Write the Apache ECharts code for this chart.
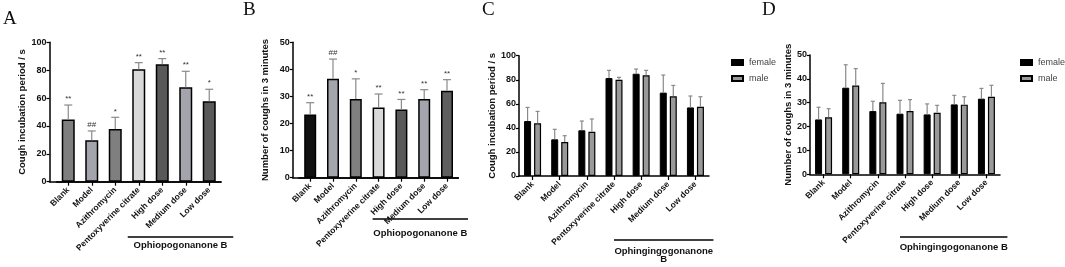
<!DOCTYPE html>
<html>
<head>
<meta charset="utf-8">
<script src="https://cdn.jsdelivr.net/npm/echarts@6/dist/echarts.min.js"></script>
<style>
  html, body { margin: 0; padding: 0; background: #fff; }
  #chart { width: 1065px; height: 267px; }
</style>
</head>
<body>
<div id="chart"></div>
<script>
const groups = ["Blank", "Model", "Azithromycin", "Pentoxyverine citrate", "High dose", "Medium dose", "Low dose"];

// A: cough incubation period
const latencyMean = [44.7, 29.7, 37.8, 80.6, 84.2, 67.7, 57.7];
const latencyUpper = [55.0, 36.4, 46.2, 85.4, 88.3, 79.2, 66.3];
const latencyMarks = ["**", "##", "*", "**", "**", "**", "*"];

// B: number of coughs
const coughMean = [23.3, 36.5, 29.1, 25.9, 25.2, 29.1, 32.1];
const coughUpper = [27.7, 43.8, 36.5, 30.9, 28.9, 32.5, 36.2];
const coughMarks = ["**", "##", "*", "**", "**", "**", "**"];

// C: incubation period by sex
const latencyFemale = [45.7, 30.5, 38.0, 81.4, 85.0, 69.3, 57.0];
const latencyFemaleUpper = [57.0, 38.8, 45.7, 87.8, 88.9, 83.9, 66.5];
const latencyMale = [43.8, 28.3, 36.8, 80.0, 83.7, 66.2, 57.6];
const latencyMaleUpper = [53.7, 33.5, 47.4, 82.0, 87.8, 75.3, 65.9];

// D: coughs by sex
const coughFemale = [23.0, 36.3, 26.5, 25.4, 25.1, 29.3, 31.7];
const coughFemaleUpper = [28.1, 45.9, 30.6, 31.0, 29.5, 33.1, 36.0];
const coughMale = [23.9, 37.2, 30.2, 26.5, 25.8, 29.2, 32.5];
const coughMaleUpper = [27.5, 44.3, 38.1, 31.3, 28.9, 32.5, 37.3];

const fillA = ["#7f7f7f", "#a4a4ac", "#7f7f7f", "#d9d9d9", "#595959", "#a4a4ac", "#595959"];
const fillB = ["#111111", "#a4a4ac", "#7f7f7f", "#d9d9d9", "#595959", "#a4a4ac", "#5f5f5f"];

const font = "Arial, 'Liberation Sans', sans-serif";
const errColor = "#8a8a8a";

const chart = echarts.init(document.getElementById("chart"));

function catAxis(gridIndex, showLabels) {
  return {
    type: "category", gridIndex, data: groups,
    axisLine: { show: true, lineStyle: { color: "#000", width: 1.5 } },
    axisTick: { show: showLabels, alignWithLabel: true, length: 4, lineStyle: { color: "#000", width: 1.2 } },
    axisLabel: {
      show: showLabels, interval: 0, rotate: 45, margin: 7,
      fontSize: 8.5, fontWeight: "bold", color: "#111", fontFamily: font
    }
  };
}

function valAxis(gridIndex, max, interval, name, nameGap, offset) {
  return {
    type: "value", gridIndex, min: 0, max, interval, offset: offset || 0,
    name, nameLocation: "middle", nameRotate: 90, nameGap,
    nameTextStyle: { fontSize: 9.5, fontWeight: "bold", color: "#111", fontFamily: font },
    axisLine: { show: true, lineStyle: { color: "#000", width: 1.5 } },
    axisTick: { show: true, length: 3, lineStyle: { color: "#000", width: 1.2 } },
    axisLabel: { fontSize: 9, fontWeight: "bold", color: "#111", margin: 3, fontFamily: font },
    splitLine: { show: false }
  };
}

function hiddenVal(gridIndex, max) {
  return { type: "value", gridIndex, min: 0, max, show: false };
}

function errorBars(axisIndex, means, uppers, marks, shift, cap) {
  return {
    type: "custom", xAxisIndex: axisIndex, yAxisIndex: axisIndex, z: 3, silent: true,
    data: means.map((m, i) => [i, m, uppers[i]]),
    renderItem: (params, api) => {
      const b = api.coord([api.value(0), api.value(1)]);
      const t = api.coord([api.value(0), api.value(2)]);
      const x = b[0] + shift;
      const children = [
        { type: "line", shape: { x1: x, y1: b[1], x2: x, y2: t[1] }, style: { stroke: errColor, lineWidth: 1.2 } },
        { type: "line", shape: { x1: x - cap, y1: t[1], x2: x + cap, y2: t[1] }, style: { stroke: errColor, lineWidth: 1.2 } }
      ];
      const mark = marks ? marks[params.dataIndex] : "";
      if (mark) {
        children.push({
          type: "text", x: x, y: t[1] - 2,
          style: { text: mark, fontSize: 8, fill: "#333", align: "center", verticalAlign: "bottom", fontFamily: font }
        });
      }
      return { type: "group", children };
    }
  };
}

function singleBars(axisIndex, values, fills, width) {
  return {
    type: "bar", xAxisIndex: axisIndex, yAxisIndex: axisIndex, barWidth: width, z: 2,
    data: values.map((v, i) => ({ value: v, itemStyle: { color: fills[i] } })),
    itemStyle: { borderColor: "#000", borderWidth: 1.5 }
  };
}

function sexBars(axisIndex, female, male) {
  return [
    {
      name: "female", type: "bar", xAxisIndex: axisIndex, yAxisIndex: axisIndex,
      barWidth: 7, barGap: "43%", data: female, z: 2,
      itemStyle: { color: "#000", borderColor: "#000", borderWidth: 1 }
    },
    {
      name: "male", type: "bar", xAxisIndex: axisIndex, yAxisIndex: axisIndex,
      barWidth: 7, barGap: "43%", data: male, z: 2,
      itemStyle: { color: "#999", borderColor: "#000", borderWidth: 1.2 }
    }
  ];
}

const legendStyle = {
  orient: "vertical", itemWidth: 11, itemHeight: 5, itemGap: 5, icon: "rect", padding: 0,
  data: ["female", "male"],
  textStyle: { fontSize: 9, lineHeight: 11, color: "#444", fontFamily: font, padding: [0, 0, 0, 1] }
};

const option = {
  animation: false,
  textStyle: { fontFamily: font },
  grid: [
    { left: 56.5, top: 42.3, width: 164.5, height: 139.4, outerBoundsMode: "none" },
    { left: 49.5, top: 42.3, width: 171.5, height: 139.4, outerBoundsMode: "none" },
    { left: 298.8, top: 42.3, width: 159.6, height: 135.4, outerBoundsMode: "none" },
    { left: 292.7, top: 42.3, width: 165.7, height: 135.4, outerBoundsMode: "none" },
    { left: 519, top: 55.7, width: 190, height: 120.3, outerBoundsMode: "none" },
    { left: 810, top: 55, width: 190, height: 119.3, outerBoundsMode: "none" }
  ],
  xAxis: [
    catAxis(0, true), catAxis(1, false), catAxis(2, true), catAxis(3, false), catAxis(4, true), catAxis(5, true)
  ],
  yAxis: [
    valAxis(0, 100, 20, "Cough incubation period / s", 20, 7),
    hiddenVal(1, 100),
    valAxis(2, 50, 10, "Number of coughs in 3 minutes", 22, 6),
    hiddenVal(3, 50),
    valAxis(4, 100, 20, "Cough incubation period / s", 22),
    valAxis(5, 50, 10, "Number of coughs in 3 minutes", 16)
  ],
  legend: [
    Object.assign({ left: 731, top: 57 }, legendStyle),
    Object.assign({ left: 1020, top: 57 }, legendStyle)
  ],
  series: [
    singleBars(0, latencyMean, fillA, 13),
    errorBars(0, latencyMean, latencyUpper, latencyMarks, 0, 4),
    singleBars(2, coughMean, fillB, 12),
    errorBars(2, coughMean, coughUpper, coughMarks, 0, 4),
    ...sexBars(4, latencyFemale, latencyMale),
    errorBars(4, latencyFemale, latencyFemaleUpper, null, -5, 2),
    errorBars(4, latencyMale, latencyMaleUpper, null, 5, 2),
    ...sexBars(5, coughFemale, coughMale),
    errorBars(5, coughFemale, coughFemaleUpper, null, -5, 2),
    errorBars(5, coughMale, coughMaleUpper, null, 5, 2)
  ]
};

chart.setOption(option);

// group brackets under the treatment labels, tied to the category positions
function bracket(axisIndex, y, padL, padR, lines, textY) {
  const x1 = chart.convertToPixel({ xAxisIndex: axisIndex }, groups[3]) - padL;
  const x2 = chart.convertToPixel({ xAxisIndex: axisIndex }, groups[6]) + padR;
  const cx = (x1 + x2) / 2;
  const out = [{ type: "line", shape: { x1, y1: y, x2, y2: y }, style: { stroke: "#000", lineWidth: 1.5 } }];
  lines.forEach((t, i) => {
    out.push({
      type: "text", x: cx, y: textY + i * 8.5,
      style: { text: t, fontSize: 9.5, fontWeight: "bold", fill: "#111", align: "center", verticalAlign: "middle", fontFamily: font }
    });
  });
  return out;
}

function letter(t, x, y) {
  return {
    type: "text", x, y,
    style: { text: t, fontSize: 19, fill: "#111", fontFamily: "'Liberation Serif', 'Times New Roman', serif", verticalAlign: "top" }
  };
}

chart.setOption({
  graphic: [
    ...bracket(0, 237, 11, 24, ["Ophiopogonanone B"], 245),
    ...bracket(2, 219, 6, 21, ["Ophiopogonanone B"], 233),
    ...bracket(4, 240, 0, 18, ["Ophingingogonanone", "B"], 251),
    ...bracket(5, 237, 5, 21, ["Ophingingogonanone B"], 247),
    letter("A", 3, 10),
    letter("B", 243, 1),
    letter("C", 482, 1),
    letter("D", 762, 1)
  ]
});
</script>
</body>
</html>
